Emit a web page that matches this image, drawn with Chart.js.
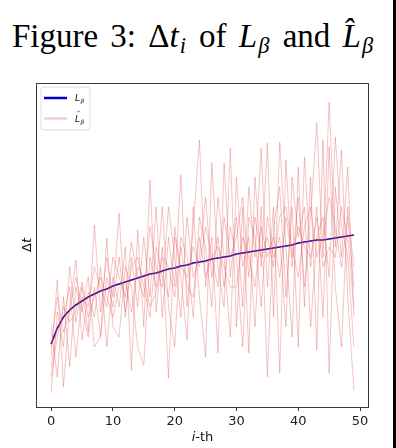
<!DOCTYPE html>
<html>
<head>
<meta charset="utf-8">
<script src="https://cdn.jsdelivr.net/npm/chart.js@4.4.0/dist/chart.umd.min.js"></script>
<style>
  body { margin: 0; width: 396px; height: 448px; background: #fff; position: relative; overflow: hidden; }
  #title { position: absolute; left: 0; top: 20px; width: 386px; text-align: center; white-space: nowrap;
           font-family: "Liberation Serif", "Times New Roman", serif; font-size: 33px; line-height: 33px;
           word-spacing: 4px; color: #000; }
  #title i { font-style: italic; }
  #title .sb { font-size: 0.68em; position: relative; top: 0.28em; line-height: 0; margin-left: 1px; margin-right: 1px; }
  #bar { position: absolute; left: 393px; top: 0; width: 3px; height: 448px; background: #000; }
  #wrap { position: absolute; left: 0; top: 0; width: 396px; height: 448px; }
</style>
</head>
<body>
<div id="title">Figure 3: Δ<i>t</i><i class="sb">i</i> of <i>L</i><i class="sb">β</i> and <i>L̂</i><i class="sb">β</i></div>
<div id="wrap"><canvas id="myChart"></canvas></div>
<div id="bar"></div>
<script>
// iteration index (x axis)
const steps = [0,1,2,3,4,5,6,7,8,9,10,11,12,13,14,15,16,17,18,19,20,21,22,23,24,
  25,26,27,28,29,30,31,32,33,34,35,36,37,38,39,40,41,42,43,44,45,46,47,48,49];
const xTicks = [0, 10, 20, 30, 40, 50];

// L_beta (smooth curve)
const lBeta = [63,79,90,97,102,106,110,113,116,118,121,123,125,127,129,131,133,134,136,138,
  139,141,142,144,145,146,148,149,150,151,153,154,155,156,157,158,159,160,161,162,
  164,165,166,167,167,168,169,170,171,172];

// L_hat_beta runs (noisy)
const hat1 = [14,95,60,140,85,120,75,182,95,150,110,194,90,150,100,170,110,200,90,170,
  120,232,100,180,267,120,170,54,244,130,190,100,220,150,259,120,200,34,247,140,
  210,120,190,284,150,305,160,257,110,17];
const hat2 = [50,127,20,100,147,67,115,90,140,60,130,100,160,37,177,80,227,95,160,29,
  180,130,67,200,110,50,244,140,100,259,80,200,54,230,140,264,90,265,160,70,
  240,100,230,57,267,34,220,150,240,90];
const hat3 = [80,30,110,40,120,95,130,60,70,169,80,70,140,120,60,42,150,120,200,100,
  60,170,150,90,190,160,100,210,150,70,230,140,170,80,200,30,180,220,110,200,
  60,250,140,200,90,260,120,60,200,140];
const hat4 = [40,80,90,120,50,110,100,140,120,100,150,130,110,165,130,110,180,140,120,200,
  150,90,190,130,150,210,130,170,120,180,150,60,190,170,100,190,150,170,80,230,
  170,200,80,170,190,130,270,180,150,60];
const hat5 = [60,110,75,95,130,100,70,120,70,130,100,150,95,140,150,120,90,160,130,110,
  170,140,130,160,140,180,150,120,190,150,170,210,130,190,150,170,140,190,200,160,
  130,180,200,150,170,210,180,140,190,120];
const hat6 = [30,70,100,85,95,125,90,110,130,110,90,120,125,95,140,130,100,115,150,140,
  110,160,120,110,170,130,150,160,140,120,120,170,150,120,180,150,170,130,190,150,
  180,160,150,190,140,160,150,200,170,100];
const hatRuns = [hat1, hat2, hat3, hat4, hat5, hat6];

const pink = 'rgba(228, 80, 80, 0.34)';
const blue = 'mediumblue';

const toPts = arr => arr.map((v, i) => ({x: steps[i], y: v}));

const datasets = [{
  label: 'L_beta', data: toPts(lBeta), borderColor: '#1a0aa8', borderWidth: 1.6,
  pointRadius: 0, tension: 0, order: 1
}];
hatRuns.forEach((run, k) => {
  datasets.push({
    label: 'L_hat_beta ' + (k + 1), data: toPts(run), borderColor: pink, borderWidth: 1,
    pointRadius: 0, tension: 0, order: 0
  });
});

// frame, legend and axis labels
const extras = {
  id: 'extras',
  afterDraw(chart) {
    const {ctx, chartArea: a} = chart;
    ctx.save();
    ctx.strokeStyle = '#3a3a3a';
    ctx.lineWidth = 1;
    ctx.strokeRect(a.left + 0.5, a.top + 0.5, a.right - a.left - 1, a.bottom - a.top);

    // legend box
    const bx = 41, by = 87, bw = 49, bh = 43, r = 3;
    ctx.beginPath();
    ctx.moveTo(bx + r, by);
    ctx.arcTo(bx + bw, by, bx + bw, by + bh, r);
    ctx.arcTo(bx + bw, by + bh, bx, by + bh, r);
    ctx.arcTo(bx, by + bh, bx, by, r);
    ctx.arcTo(bx, by, bx + bw, by, r);
    ctx.closePath();
    ctx.fillStyle = 'rgba(255,255,255,0.8)';
    ctx.fill();
    ctx.strokeStyle = '#dcdcdc';
    ctx.stroke();

    ctx.lineWidth = 2.5;
    ctx.strokeStyle = blue;
    ctx.beginPath(); ctx.moveTo(44, 98); ctx.lineTo(67, 98); ctx.stroke();
    ctx.strokeStyle = 'rgba(232, 90, 90, 0.3)';
    ctx.beginPath(); ctx.moveTo(44, 118.5); ctx.lineTo(67, 118.5); ctx.stroke();

    ctx.fillStyle = '#111';
    ctx.textBaseline = 'alphabetic';
    ctx.textAlign = 'left';
    ctx.font = 'italic 9px "DejaVu Sans"';
    ctx.fillText('L', 75, 101);
    ctx.fillText('L', 75, 122);
    ctx.font = 'italic 6px "DejaVu Sans"';
    ctx.fillText('β', 80.5, 103);
    ctx.fillText('β', 80.5, 124);
    ctx.font = '6px "DejaVu Sans"';
    ctx.fillText('^', 76, 115);

    // x axis label
    const cx = (a.left + a.right) / 2;
    ctx.textBaseline = 'middle';
    ctx.font = 'italic 13px "DejaVu Sans"';
    const wi = ctx.measureText('i').width;
    ctx.font = '13px "DejaVu Sans"';
    const wt = ctx.measureText('-th').width;
    const x0 = cx - (wi + wt) / 2;
    ctx.font = 'italic 13px "DejaVu Sans"';
    ctx.fillText('i', x0, 438);
    ctx.font = '13px "DejaVu Sans"';
    ctx.fillText('-th', x0 + wi, 438);

    // y axis label
    ctx.translate(28, (a.top + a.bottom) / 2);
    ctx.rotate(-Math.PI / 2);
    ctx.font = '13px "DejaVu Sans"';
    const wd = ctx.measureText('Δ').width;
    ctx.font = 'italic 13px "DejaVu Sans"';
    const wtt = ctx.measureText('t').width;
    const y0 = -(wd + wtt) / 2;
    ctx.font = '13px "DejaVu Sans"';
    ctx.fillText('Δ', y0, 0);
    ctx.font = 'italic 13px "DejaVu Sans"';
    ctx.fillText('t', y0 + wd, 0);
    ctx.restore();
  }
};

const ctx = document.getElementById('myChart').getContext('2d');
new Chart(ctx, {
  type: 'line',
  data: { datasets: datasets },
  options: {
    responsive: true,
    maintainAspectRatio: false,
    animation: false,
    events: [],
    layout: { padding: { top: 83, right: 27, left: 0, bottom: 0 } },
    plugins: { legend: { display: false }, tooltip: { enabled: false } },
    scales: {
      x: {
        type: 'linear',
        min: -2.45,
        max: 51.45,
        afterBuildTicks: scale => { scale.ticks = xTicks.map(v => ({value: v})); },
        afterFit: scale => { scale.height = 41; },
        border: { display: false },
        grid: { display: true, drawOnChartArea: false, drawTicks: true, tickLength: 4, color: '#3a3a3a' },
        ticks: { color: '#222', padding: 3, maxRotation: 0, font: { family: 'DejaVu Sans', size: 13 } }
      },
      y: {
        type: 'linear',
        min: 0,
        max: 324,
        afterFit: scale => { scale.width = 36; },
        border: { display: false },
        grid: { display: false },
        ticks: { display: false }
      }
    }
  },
  plugins: [extras]
});
</script>
</body>
</html>
